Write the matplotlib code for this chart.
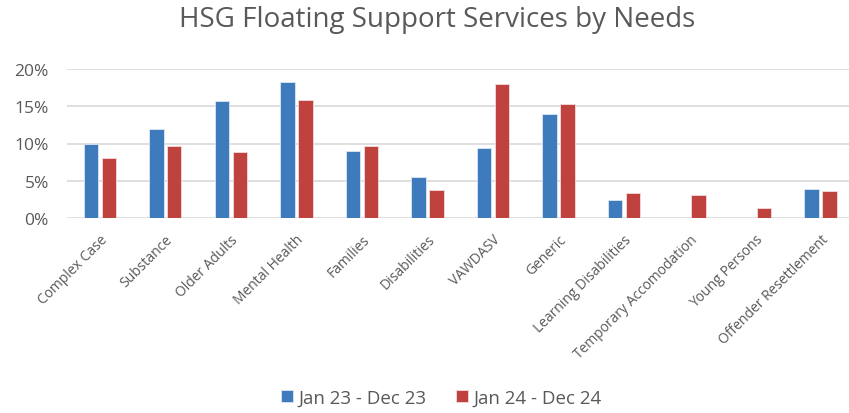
import matplotlib
matplotlib.use('Agg')
import matplotlib.pyplot as plt
from matplotlib.ticker import PercentFormatter
import numpy as np

# ── DATOS ───────────────────────────────────────────────
categories = ['Complex Case', 'Substance', 'Older Adults', 'Mental Health',
              'Families', 'Disabilities', 'VAWDASV', 'Generic',
              'Learning Disabilities', 'Temporary Accomodation',
              'Young Persons', 'Offender Resettlement']
series_names = ['Jan 23 - Dec 23', 'Jan 24 - Dec 24']
vals_23 = [10.0, 12.0, 15.7, 18.3, 9.0, 5.5, 9.4, 14.0, 2.4, 0.0, 0.0, 3.9]
vals_24 = [8.1, 9.6, 8.8, 15.8, 9.6, 3.7, 18.0, 15.3, 3.4, 3.1, 1.3, 3.6]

BLUE = '#3d7bbd'
RED = '#c0423f'
GREY_TXT = '#595959'

plt.rcParams['font.family'] = ['Open Sans', 'DejaVu Sans']

fig = plt.figure(figsize=(8.49, 4.14), dpi=100)
ax = fig.add_axes([67 / 849, 1 - 219 / 414, (849 - 67) / 849 + 0.005, (219 - 70) / 414])

x = np.arange(len(categories))
w = 0.22
off = 0.137
ax.bar(x - off, vals_23, w, color=BLUE, edgecolor='#dce6f2', linewidth=0.6,
       label=series_names[0], zorder=3)
ax.bar(x + off, vals_24, w, color=RED, edgecolor='#f2dcdb', linewidth=0.6,
       label=series_names[1], zorder=3)

ax.set_xlim(-0.5, len(categories) - 0.5)
ax.set_ylim(0, 20)
ax.set_yticks([0, 5, 10, 15, 20])
ax.yaxis.set_major_formatter(PercentFormatter(decimals=0))
ax.grid(axis='y', color='#d9d9d9', linewidth=1.2, zorder=0)
for s in ax.spines.values():
    s.set_visible(False)
ax.tick_params(axis='both', length=0, colors=GREY_TXT)
ax.tick_params(axis='y', labelsize=12.5, pad=13)
ax.tick_params(axis='x', pad=10)
ax.set_xticks(x)
ax.set_xticklabels(categories, rotation=45, ha='right', rotation_mode='anchor',
                   fontsize=10, color=GREY_TXT)

fig.suptitle('HSG Floating Support Services by Needs', x=0.515, y=0.985,
             fontsize=20, color=GREY_TXT)

fig.legend(loc='lower center', bbox_to_anchor=(0.52, -0.025), ncol=2,
           frameon=False, fontsize=13.5, handlelength=0.6, handleheight=0.6,
           handletextpad=0.3, columnspacing=1.6, labelcolor=GREY_TXT)

fig.savefig('out.png', dpi=100)
